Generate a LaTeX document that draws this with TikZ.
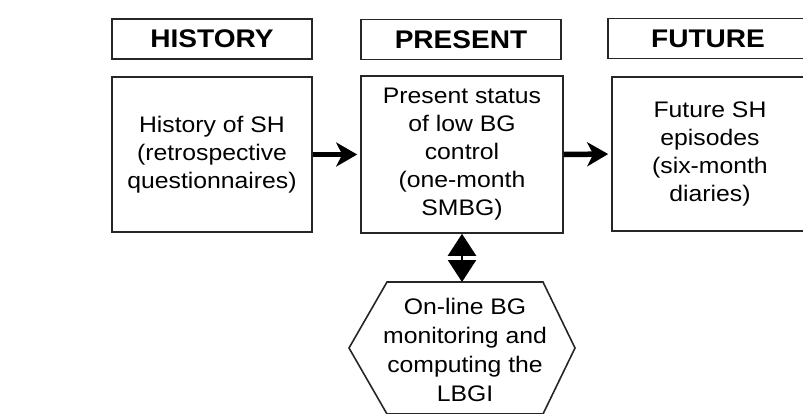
\documentclass[tikz,border=0pt]{standalone}
\usepackage{fontspec}
\setmainfont{Liberation Sans}[FakeStretch=1.1]
\usetikzlibrary{arrows.meta}
\begin{document}
\begin{tikzpicture}[x=1pt,y=-1pt,
  frame/.style={draw=black!85,line width=1.6pt,fill=white},
  header/.style={frame,minimum width=200pt,minimum height=40pt,inner sep=0pt,
    font=\bfseries\fontsize{25.5}{28}\selectfont},
  body/.style={frame,inner sep=0pt,align=center,
    font=\fontsize{22.5}{28}\selectfont},
  flow/.style={line width=5.5pt,shorten >=3pt,
    -{Stealth[length=21pt,width=24pt,inset=6pt]}},
  both/.style={line width=2.5pt,
    {Triangle[length=22pt,width=28pt]}-{Triangle[length=22pt,width=28pt]}}]
\path[use as bounding box,clip] (0,0) rectangle (803,413);
\fill[white] (0,0) rectangle (803,413);

% column headers
\node[header] (hHist) at (212,39) {HISTORY};
\node[header] (hPres) at (461,39.5) {PRESENT};
\node[header] (hFut) at (708,38.5) {FUTURE};

% column contents
\node[body,minimum width=200pt,minimum height=155pt] (bHist) at (212,154.5)
  {History of SH\\(retrospective\\questionnaires)};
\node[body,minimum width=202pt,minimum height=157pt] (bPres) at (462,154.5)
  {Present status\\of low BG\\control\\(one-month\\SMBG)};
\node[body,minimum width=196pt,minimum height=154pt] (bFut) at (710,154)
  {Future SH\\episodes\\(six-month\\diaries)};

% hexagon for the on-line monitoring step
\draw[draw=black!85,line width=1.6pt] (387,282) -- (543,282) -- (575,348)
  -- (543,414) -- (387,414) -- (349,348) -- cycle;
\coordinate (hexTop) at (465,282);
\node[align=center,font=\fontsize{22.5}{29}\selectfont] (hex) at (465,350)
  {On-line BG\\monitoring and\\computing the\\LBGI};

% connectors
\draw[flow] (bHist.east) -- (bPres.west);
\draw[flow] (bPres.east) -- (bFut.west);
\draw[both] (bPres.south) -- (bPres.south |- hexTop);
\end{tikzpicture}
\end{document}
